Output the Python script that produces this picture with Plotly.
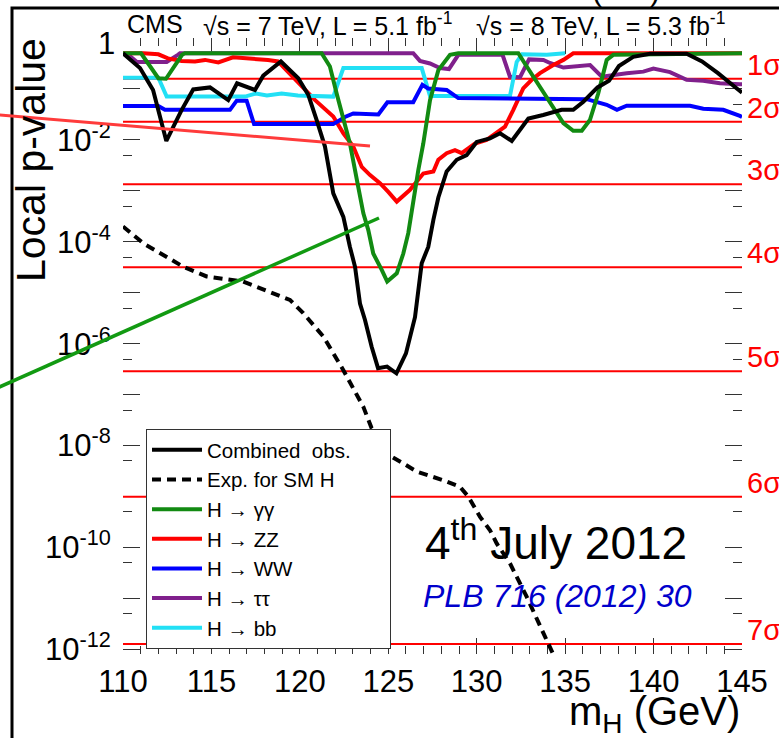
import numpy as np
import plotly.graph_objects as go

# ---------------------------------------------------------------------------
# Local p-value scan vs Higgs mass (values are log10 of the local p-value)
# ---------------------------------------------------------------------------
mass_comb = [110.0, 110.96, 111.70, 112.45, 113.32, 113.97, 114.92, 115.95, 116.45, 117.46,
             117.93, 118.93, 119.91, 120.48, 120.95, 121.42, 121.89, 122.46, 122.83, 123.12,
             123.40, 123.68, 124.06, 124.42, 124.93, 125.46, 126.00, 126.51, 126.89, 127.26,
             127.55, 127.83, 128.30, 128.87, 129.43, 130.00, 130.75, 131.32, 131.98, 132.92,
             133.76, 134.80, 135.46, 136.03, 136.83, 137.48, 138.04, 138.85, 139.80, 141.87,
             142.74, 143.64, 144.88, 145.0]
log10p_comb = [-0.30, -0.59, -1.02, -2.02, -1.41, -1.01, -0.97, -1.22, -0.89, -1.02,
               -0.74, -0.46, -0.79, -1.12, -1.61, -2.13, -3.05, -3.51, -4.10, -4.49,
               -5.21, -5.53, -6.06, -6.48, -6.45, -6.58, -6.19, -5.48, -4.42, -4.10,
               -3.57, -3.13, -2.62, -2.39, -2.30, -2.04, -1.97, -1.87, -2.02, -1.58,
               -1.51, -1.41, -1.41, -1.25, -0.97, -0.84, -0.55, -0.37, -0.31, -0.31,
               -0.46, -0.69, -1.04, -1.07]

mass_exp = [110.0, 111.15, 113.41, 114.73, 116.80, 118.12, 119.44, 120.19, 121.33, 122.46,
            123.59, 124.06, 125.19, 125.85, 126.61, 128.11, 129.06, 129.52, 130.19, 130.75,
            131.13, 131.88, 132.83, 133.77, 134.33, 134.80]
log10p_exp = [-3.70, -4.03, -4.49, -4.68, -4.78, -4.95, -5.14, -5.40, -5.86, -6.52,
              -7.24, -7.66, -8.22, -8.35, -8.51, -8.68, -8.81, -9.00, -9.40, -9.66,
              -9.92, -10.31, -10.97, -11.68, -12.08, -12.45]

mass_gg = [110.0, 111.02, 112.0, 112.43, 113.34, 113.5, 121.23, 121.70, 122.08, 122.46,
           122.83, 123.30, 123.59, 123.87, 124.15, 124.63, 124.94, 125.48, 125.85, 126.13,
           126.41, 126.70, 126.98, 127.36, 127.83, 128.49, 128.96, 132.35, 132.83, 133.58,
           134.33, 134.90, 135.46, 135.94, 136.40, 136.87, 137.35, 137.72, 145.0]
log10p_gg = [-0.30, -0.30, -0.79, -0.80, -0.33, -0.30, -0.30, -0.56, -1.09, -1.61,
             -2.07, -2.92, -3.44, -3.77, -4.23, -4.55, -4.78, -4.62, -4.23, -3.83,
             -3.18, -2.59, -2.07, -1.22, -0.63, -0.33, -0.30, -0.30, -0.56, -0.96,
             -1.35, -1.67, -1.82, -1.82, -1.61, -1.09, -0.43, -0.33, -0.30]

mass_zz = [110.0, 111.15, 112.0, 112.54, 113.32, 114.07, 114.64, 115.39, 116.22, 117.07,
           118.20, 118.76, 119.39, 120.23, 120.86, 121.89, 122.46, 123.02, 123.50, 123.97,
           124.53, 125.0, 125.48, 126.23, 126.98, 127.55, 127.83, 128.30, 128.77, 129.15,
           129.90, 130.56, 131.13, 131.60, 132.07, 132.63, 133.11, 133.58, 134.33, 134.90,
           135.46, 145.0]
log10p_zz = [-0.30, -0.30, -0.32, -0.40, -0.45, -0.46, -0.43, -0.48, -0.38, -0.40,
             -0.43, -0.46, -0.68, -0.98, -1.22, -1.54, -1.87, -2.13, -2.53, -2.69,
             -2.85, -3.02, -3.21, -2.98, -2.66, -2.62, -2.39, -2.26, -2.20, -2.26,
             -2.07, -2.00, -1.87, -1.74, -1.41, -0.99, -0.82, -0.69, -0.53, -0.43,
             -0.30, -0.30]

mass_ww = [110.0, 112.0, 112.37, 116.05, 116.43, 116.99, 117.41, 121.89, 122.55, 123.02,
           124.44, 124.95, 126.41, 126.93, 127.25, 128.30, 128.96, 136.22, 137.35, 137.93,
           138.48, 142.06, 142.81, 143.94, 144.88, 145.0]
log10p_ww = [-1.335, -1.335, -1.41, -1.41, -1.23, -1.23, -1.69, -1.69, -1.55, -1.48,
             -1.50, -1.26, -1.26, -0.92, -0.99, -1.02, -1.18, -1.20, -1.31, -1.41,
             -1.33, -1.33, -1.39, -1.41, -1.53, -1.55]

mass_tt = [110.0, 110.40, 110.79, 112.47, 113.10, 113.22, 126.41, 126.79, 127.36, 127.92,
           128.43, 128.96, 131.46, 131.88, 132.45, 132.96, 133.77, 134.14, 134.90, 135.65,
           136.41, 137.07, 137.63, 138.48, 139.42, 139.99, 140.93, 141.87, 142.81, 143.75,
           144.88, 145.0]
log10p_tt = [-0.30, -0.36, -0.47, -0.47, -0.33, -0.30, -0.30, -0.45, -0.50, -0.59,
             -0.61, -0.33, -0.33, -0.76, -0.77, -0.42, -0.43, -0.49, -0.58, -0.56,
             -0.53, -0.76, -0.73, -0.69, -0.66, -0.60, -0.67, -0.82, -0.84, -0.89,
             -0.91, -0.91]

mass_bb = [110.0, 112.0, 112.47, 116.90, 117.52, 118.14, 118.97, 119.89, 121.89, 122.46,
           126.89, 127.17, 127.36, 131.88, 132.26, 132.56, 133.39, 133.96, 135.0]
log10p_bb = [-0.78, -0.78, -1.15, -1.15, -1.09, -1.13, -1.09, -1.13, -1.15, -0.59,
             -0.59, -0.92, -1.14, -1.14, -0.47, -0.32, -0.33, -0.33, -0.30]

# one-sided p-values of the n-sigma reference levels
sigma_labels = ["1σ", "2σ", "3σ", "4σ", "5σ", "6σ", "7σ"]
sigma_pvalues = [0.158655, 0.0227501, 1.34990e-3, 3.16712e-5, 2.86652e-7, 9.86588e-10, 1.27981e-12]

x_tick_values = [110, 115, 120, 125, 130, 135, 140, 145]
y_tick_exponents = list(range(0, -13, -1))

# ---------------------------------------------------------------------------
W, H = 779, 738
ML, MR, MT, MB = 123, 37, 38, 84
PW, PH = W - ML - MR, H - MT - MB
FONT = "Liberation Sans, Arial, Helvetica, sans-serif"


def px_x(px):
    return (px - ML) / PW


def px_y(py):
    return (H - MB - py) / PH


def pvals(logs):
    return [10.0 ** v for v in logs]


fig = go.Figure()

# significance reference lines
for p in sigma_pvalues:
    fig.add_trace(go.Scatter(x=[110, 145], y=[p, p], mode="lines",
                             line=dict(color="#ff0000", width=2), zorder=0,
                             showlegend=False, hoverinfo="skip"))

# (legend rank, legend label, masses, log10 p, colour, dash), added bottom-most first
series = [
    (6, "H \u2192 \u03c4\u03c4", mass_tt, log10p_tt, "#80208c", None),
    (4, "H \u2192 ZZ", mass_zz, log10p_zz, "#ff0000", None),
    (7, "H \u2192 bb", mass_bb, log10p_bb, "#22e0f5", None),
    (5, "H \u2192 WW", mass_ww, log10p_ww, "#0000ff", None),
    (3, "H \u2192 \u03b3\u03b3", mass_gg, log10p_gg, "#128a12", None),
    (2, "Exp. for SM H", mass_exp, log10p_exp, "#000000", "9px,6px"),
    (1, "Combined\u00a0 obs.\u00a0\u00a0\u00a0\u00a0\u00a0\u00a0", mass_comb, log10p_comb, "#000000", None),
]
for z, (rank, name, m, lp, col, dash) in enumerate(series, start=1):
    fig.add_trace(go.Scatter(x=m, y=pvals(lp), mode="lines", name=name,
                             line=dict(color=col, width=4, dash=dash),
                             legendrank=rank, zorder=z, hoverinfo="skip"))

y_tickvals = [10.0 ** e for e in y_tick_exponents]
y_ticktext = []
for e in y_tick_exponents:
    if e % 2 == 0 and e != 0:
        y_ticktext.append("10<sup>%d</sup>" % e)
    else:
        y_ticktext.append("")
y_minorvals = [5.0 * 10.0 ** (e - 1) for e in y_tick_exponents]

axis_common = dict(showline=True, linecolor="#333333", linewidth=1, mirror="ticks",
                   ticks="inside", tickcolor="#333333", tickwidth=1,
                   showgrid=False, zeroline=False, layer="below traces",
                   tickfont=dict(family=FONT, size=31, color="#000000"))

fig.update_xaxes(range=[110, 145], tickmode="array", tickvals=x_tick_values, ticklen=16,
                 minor=dict(ticks="inside", dtick=1, tick0=110, ticklen=8,
                            tickcolor="#333333", showgrid=False),
                 **axis_common)
fig.update_yaxes(type="log", range=[-12.09, 0.0], tickmode="array",
                 tickvals=y_tickvals, ticktext=y_ticktext, ticklen=17,
                 ticklabelstandoff=5,
                 minor=dict(ticks="inside", tickvals=y_minorvals, ticklen=9,
                            tickcolor="#333333", showgrid=False),
                 **axis_common)

annotations = []
# label of the top decade, aligned with the ends of the superscripted labels
annotations.append(dict(text="1", x=px_x(117), y=0.0, xref="paper", yref="y",
                        xanchor="right", yanchor="middle", yshift=-5, showarrow=False,
                        font=dict(family=FONT, size=31, color="#000000")))
# header line
header = [("CMS", 125), ("\u221as = 7 TeV, L = 5.1 fb<sup>-1</sup>", 201),
          ("\u221as = 8 TeV, L = 5.3 fb<sup>-1</sup>", 474)]
for txt, xp in header:
    annotations.append(dict(text=txt, x=px_x(xp), y=px_y(24), xref="paper", yref="paper",
                            xanchor="left", yanchor="middle", showarrow=False,
                            font=dict(family=FONT, size=25, color="#000000")))
# parentheses of the line above the frame
for xp, ch in [(597, "("), (655, ")")]:
    annotations.append(dict(text=ch, x=px_x(xp), y=px_y(9), xref="paper", yref="paper",
                            xanchor="center", yanchor="bottom", showarrow=False,
                            font=dict(family=FONT, size=30, color="#000000")))

# sigma labels on the right
for lab, p in zip(sigma_labels, sigma_pvalues):
    annotations.append(dict(text=lab, x=px_x(745), y=np.log10(p), xref="paper", yref="y",
                            xanchor="left", yanchor="middle", yshift=14, showarrow=False,
                            font=dict(family=FONT, size=29, color="#ff0000")))

# axis titles
annotations.append(dict(text="Local p-value", x=px_x(31), y=px_y(36), xref="paper", yref="paper",
                        xanchor="center", yanchor="top", textangle=-90, showarrow=False,
                        font=dict(family=FONT, size=41, color="#000000")))
annotations.append(dict(text="m<sub>H</sub> (GeV)", x=px_x(742), y=px_y(714), xref="paper",
                        yref="paper", xanchor="right", yanchor="middle", showarrow=False,
                        font=dict(family=FONT, size=40, color="#000000")))

# date and reference
annotations.append(dict(text="4<sup>th</sup> July 2012", x=px_x(556), y=px_y(540), xref="paper",
                        yref="paper", xanchor="center", yanchor="middle", showarrow=False,
                        font=dict(family=FONT, size=46, color="#000000")))
annotations.append(dict(text="<i>PLB 716 (2012) 30</i>", x=px_x(557), y=px_y(596), xref="paper",
                        yref="paper", xanchor="center", yanchor="middle", showarrow=False,
                        font=dict(family=FONT, size=32, color="#0000cc")))

shapes = [
    # outer slide frame
    dict(type="rect", xref="paper", yref="paper", x0=px_x(12), y0=px_y(8),
         x1=px_x(800), y1=px_y(800), line=dict(color="#000000", width=3), layer="above"),
    # pointer lines
    dict(type="line", xref="paper", yref="paper", x0=px_x(-5), y0=px_y(114.6),
         x1=px_x(370), y1=px_y(146), line=dict(color="#ff3b3b", width=3), layer="above"),
    dict(type="line", xref="paper", yref="paper", x0=px_x(-5), y0=px_y(389),
         x1=px_x(379), y1=px_y(218), line=dict(color="#129a12", width=3.5), layer="above"),
]

fig.update_layout(
    width=W, height=H,
    margin=dict(l=ML, r=MR, t=MT, b=MB, pad=0),
    paper_bgcolor="#ffffff", plot_bgcolor="#ffffff",
    font=dict(family=FONT, color="#000000"),
    showlegend=True,
    legend=dict(x=px_x(146), y=px_y(429), xanchor="left", yanchor="top",
                bgcolor="#ffffff", bordercolor="#333333", borderwidth=1,
                font=dict(family=FONT, size=20.5, color="#000000"),
                traceorder="normal", itemwidth=50),
    annotations=annotations,
    shapes=shapes,
)

fig.write_html("out.html")
